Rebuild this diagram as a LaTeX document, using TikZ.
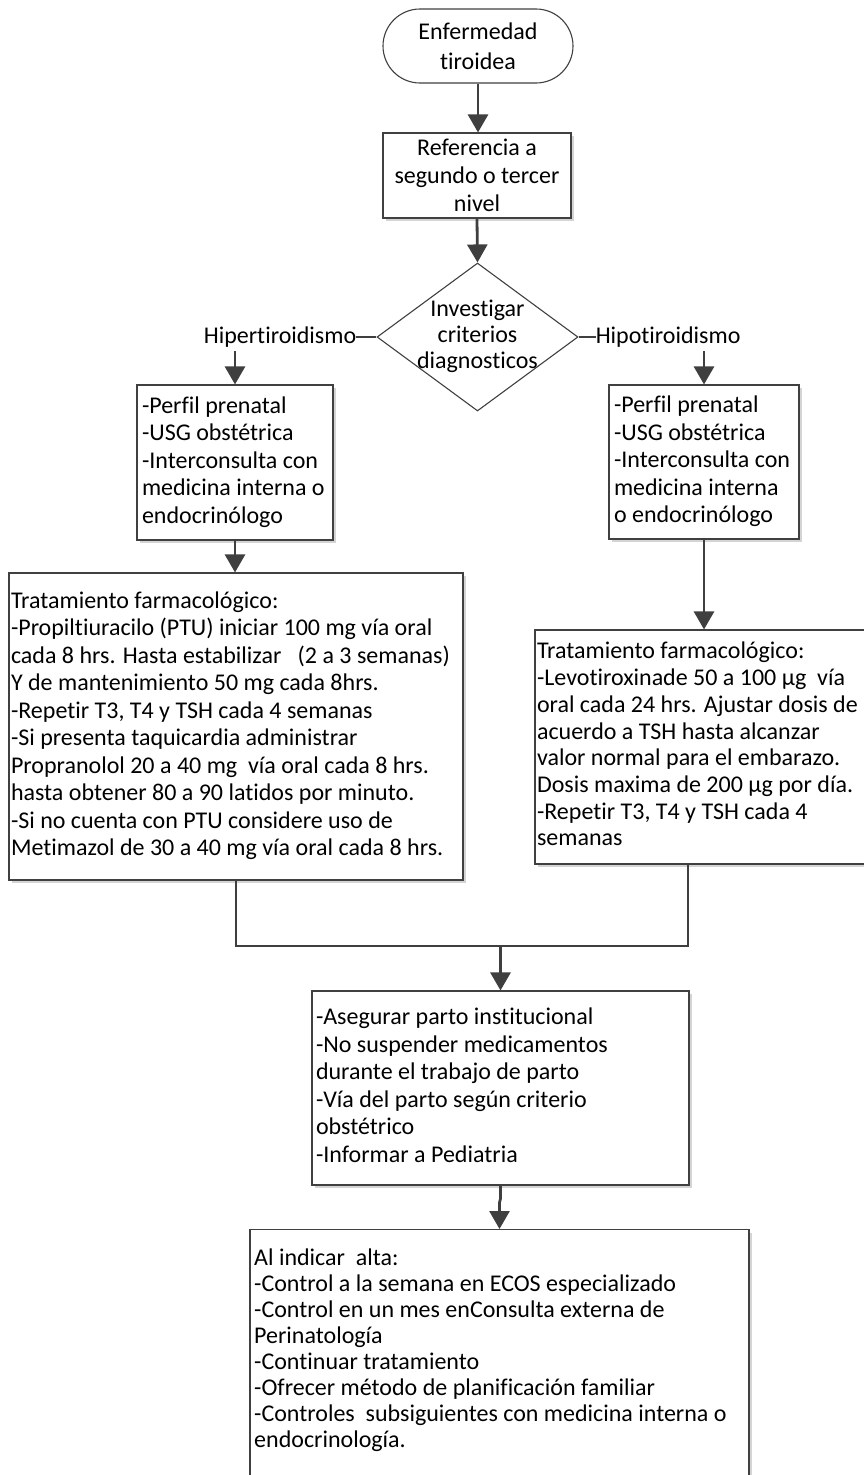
\documentclass[tikz,border=0pt]{standalone}
\usepackage{fontspec}
\setmainfont[RawFeature={-liga;-clig;-dlig}]{Carlito}
\usetikzlibrary{arrows.meta,shapes.geometric,shadows,calc}
\definecolor{edgecol}{HTML}{404040}
\definecolor{wirecol}{HTML}{3F3F3F}
\definecolor{shadecol}{HTML}{D4D4D4}
\newcommand\boxlines[2]{\makebox[#1pt][l]{\begin{tabular}{@{}l@{}}#2\end{tabular}}}
\begin{document}
\begin{tikzpicture}[x=1pt,y=-1pt,
  every node/.style={font=\fontsize{24}{27.5}\selectfont, text=black},
  procbox/.style={draw=edgecol, line width=1.1pt, fill=white, rectangle, inner ysep=0pt,
    drop shadow={shadow xshift=3pt, shadow yshift=-3pt, fill=shadecol, opacity=1}},
  wire/.style={draw=wirecol, line width=2.8pt},
  flow/.style={wire, -{Triangle[width=20pt,length=18pt]}},
]
\useasboundingbox (0,0) rectangle (863,1475);

% start
\node[draw=edgecol, line width=1.1pt, fill=white, rounded corners=37pt, minimum width=190pt, minimum height=74pt,
  align=center, font=\fontsize{24}{30}\selectfont] (term) at (478,46) {Enfermedad\\tiroidea};

\node[procbox, minimum width=188pt, minimum height=85pt, align=center, font=\fontsize{24}{28}\selectfont]
  (ref) at (477,175.5) {Referencia a\\segundo o tercer\\nivel};

% decision
\node[diamond, draw=edgecol, line width=1.1pt, fill=white, minimum width=201pt, minimum height=148pt, inner sep=0pt]
  (dia) at (477.5,337) {};
\node[align=center, font=\fontsize{24}{26}\selectfont] (diatxt) at (477.5,336) {Investigar\\criterios\\diagnosticos};

\node[anchor=east, inner sep=0pt] (hiper) at ([xshift=-20pt]dia.west) {Hipertiroidismo};
\node[anchor=west, inner sep=0pt] (hipo) at ([xshift=17pt]dia.east) {Hipotiroidismo};

% first-level boxes
\node[procbox, minimum width=196pt, minimum height=155pt, inner xsep=5pt] (lbox1) at (235,462.5)
  {\boxlines{186}{-Perfil prenatal\\
-USG obstétrica\\
-Interconsulta con\\
medicina interna o\\
endocrinólogo}};

\node[procbox, minimum width=190pt, minimum height=154pt, inner xsep=5pt] (rbox1) at (704,462)
  {\boxlines{180}{-Perfil prenatal\\
-USG obstétrica\\
-Interconsulta con\\
medicina interna\\
o endocrinólogo}};

% treatment boxes
\node[procbox, minimum width=454pt, minimum height=307pt, inner xsep=2pt] (lbox2) at (236,726.5)
  {\boxlines{450}{Tratamiento farmacológico:\\
-Propiltiuracilo (PTU) iniciar 100 mg vía oral\\
cada 8 hrs. Hasta estabilizar\ \ \ (2 a 3 semanas)\\
Y de mantenimiento 50 mg cada 8hrs.\\
-Repetir T3, T4 y TSH cada 4 semanas\\
-Si presenta taquicardia administrar\\
Propranolol 20 a 40 mg\ \ vía oral cada 8 hrs.\\
hasta obtener 80 a 90 latidos por minuto.\\
-Si no cuenta con PTU considere uso de\\
Metimazol de 30 a 40 mg vía oral cada 8 hrs.}};

\node[procbox, minimum width=420pt, minimum height=234pt, inner xsep=2pt, font=\fontsize{24}{26.7}\selectfont]
  (rbox2) at (745,747)
  {\boxlines{416}{Tratamiento farmacológico:\\
-Levotiroxinade 50 a 100 µg\ \ vía\\
oral cada 24 hrs. Ajustar dosis de\\
acuerdo a TSH hasta alcanzar\\
valor normal para el embarazo.\\
Dosis maxima de 200 µg por día.\\
-Repetir T3, T4 y TSH cada 4\\
semanas}};

% delivery box
\node[procbox, minimum width=377pt, minimum height=194pt, inner xsep=4pt] (mid) at (500.5,1088)
  {\boxlines{369}{-Asegurar parto institucional\\
-No suspender medicamentos\\
durante el trabajo de parto\\
-Vía del parto según criterio\\
obstétrico\\
-Informar a Pediatria}};

% discharge box
\node[procbox, minimum width=499pt, minimum height=290pt, anchor=north] (bot) at (499.5,1229) {};
\node[anchor=north west, inner sep=0pt, font=\fontsize{24}{26}\selectfont] (bottxt) at (254,1247)
  {\boxlines{480}{Al indicar\ \ alta:\\
-Control a la semana en ECOS especializado\\
-Control en un mes enConsulta externa de\\
Perinatología\\
-Continuar tratamiento\\
-Ofrecer método de planificación familiar\\
-Controles\ \ subsiguientes con medicina interna o\\
endocrinología.}};

\coordinate (join) at (500.5,946);
\coordinate (rjoin) at (688,864);

% connectors
\draw[flow] (term.south) -- (term.south |- ref.north);
\draw[flow] (ref.south) -- (dia.north);
\draw[wire] (hiper.east) -- (dia.west);
\draw[wire] (dia.east) -- (hipo.west);
\draw[flow] ($(lbox1.north |- hiper.south)+(0,4)$) -- (lbox1.north);
\draw[flow] ($(rbox1.north |- hipo.south)+(0,4)$) -- (rbox1.north);
\draw[flow] (lbox1.south) -- (lbox1.south |- lbox2.north);
\draw[flow] (rbox1.south) -- (rbox1.south |- rbox2.north);
\draw[wire] (lbox2.south) |- (join) -| (rjoin);
\draw[flow] (join) -- (mid.north);
\draw[flow] (mid.south) -- ++(0,13) -- ($(mid.south -| bot.north)+(0,17)$) -- (bot.north);
\end{tikzpicture}
\end{document}
